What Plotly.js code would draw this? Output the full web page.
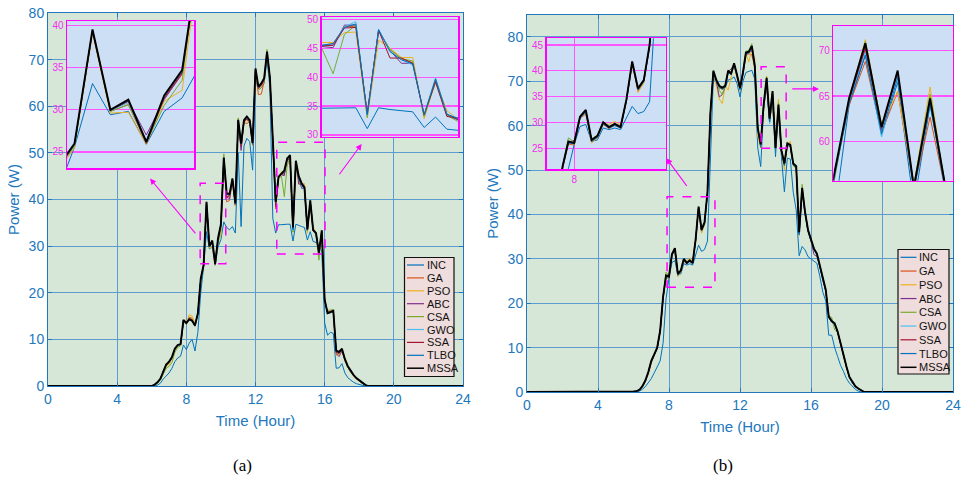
<!DOCTYPE html>
<html><head><meta charset="utf-8">
<script src="https://cdn.plot.ly/plotly-3.0.1.min.js"></script>
<style>html,body{margin:0;padding:0;background:#fff;}#chart{width:963px;height:479px;}</style>
</head><body><div id="chart"></div>
<script>
// ---------------- DATA ----------------
const seriesNames = ['INC','GA','PSO','ABC','CSA','GWO','SSA','TLBO','MSSA'];
const xTicks = [0,4,8,12,16,20,24];
const yTicksMain = [0,10,20,30,40,50,60,70,80];

// Panel (a): time in hours (10-min steps during the day)
const timeA = [0,
 6,6.167,6.333,6.5,6.667,6.833, 7,7.167,7.333,7.5,7.667,7.833, 8,8.167,8.333,8.5,8.667,8.833,
 9,9.167,9.333,9.5,9.667,9.833, 10,10.167,10.333,10.5,10.667,10.833, 11,11.167,11.333,11.5,11.667,11.833,
 12,12.167,12.333,12.5,12.667,12.833, 13,13.167,13.333,13.5,13.667,13.833, 14,14.167,14.333,14.5,14.667,14.833,
 15,15.167,15.333,15.5,15.667,15.833, 16,16.167,16.333,16.5,16.667,16.833, 17,17.167,17.333,17.5,17.667,17.833,
 18,18.167,18.333,18.5, 24];

const INC_a = [0,
 0,0,0.2,0.6,1.5,2.2, 2.8,3.8,5.2,6.0,6.4,8.8, 7.8,9.2,10.0,7.5,11.5,20.0,
 25.6,33.1,29.4,29.8,25.9,29.8, 31.4,35.2,34.0,33.5,34.2,32.8, 50.0,34.2,51.5,53.1,52.4,46.3,
 66.0,63.5,64.0,65.0,70.0,64.0, 36.0,32.8,34.6,34.6,34.7,34.7, 34.7,31.1,34.7,34.4,34.2,34.0,
 31.3,33.1,31.0,30.8,30.0,29.0, 13.5,10.9,11.5,11.3,3.8,3.9, 4.8,2.8,1.8,1.2,0.8,0.5,
 0.3,0.1,0,0, 0];
const GA_a = [0,
 0,0.3,0.8,1.5,3.0,4.4, 5.0,6.0,7.8,8.6,8.9,13.8, 13.3,14.8,14.5,13.2,15.4,22.8,
 25.8,39.3,29.8,30.6,26.0,31.3, 34.2,48.5,39.5,39.8,44.0,38.8, 56.6,51.2,56.5,56.3,56.7,51.8,
 67.5,62.5,62.6,65.3,71.2,65.8, 52.0,38.0,44.5,45.5,45.8,48.7, 48.8,33.5,48.0,44.8,43.2,42.5,
 33.3,39.4,33.6,32.6,28.5,33.0, 18.0,16.0,16.0,16.3,6.8,6.8, 7.6,5.4,4.0,3.0,2.2,1.5,
 1.0,0.6,0.2,0, 0];
const PSO_a = [0,
 0,0.3,0.7,1.4,2.9,4.2, 4.6,5.8,7.6,8.5,8.8,14.0, 13.6,15.3,15.0,13.5,15.2,22.5,
 25.5,39.0,29.6,29.7,25.9,31.0, 32.3,48.6,40.8,40.6,44.2,38.6, 56.8,51.5,56.2,57.0,56.5,51.5,
 67.8,63.5,64.2,65.5,71.0,65.5, 52.5,38.8,44.6,46.0,46.0,47.7, 47.8,33.0,46.4,45.0,43.4,43.4,
 32.8,39.4,34.2,32.7,28.2,32.8, 18.0,15.8,15.7,16.0,6.5,6.9, 7.4,5.5,4.1,3.0,2.2,1.5,
 1.0,0.6,0.2,0, 0];
const ABC_a = [0,
 0,0.3,0.8,1.5,3.1,4.5, 5.0,6.0,7.9,8.7,8.9,14.0, 13.4,14.6,14.2,12.8,15.5,22.8,
 25.8,39.2,30.0,31.0,27.0,31.2, 34.3,48.6,40.5,40.2,44.2,38.8, 56.8,50.5,56.8,57.2,56.6,51.8,
 67.8,63.8,64.5,65.5,71.2,66.0, 52.6,39.0,44.7,45.3,45.1,49.0, 49.0,33.6,48.2,44.6,42.4,42.4,
 33.3,39.6,33.4,32.6,28.3,33.0, 18.2,15.8,16.0,16.0,7.0,6.3, 7.5,5.6,4.1,3.0,2.3,1.6,
 1.1,0.6,0.2,0, 0];
const CSA_a = [0,
 0,0.2,0.6,1.2,2.6,3.8, 4.2,5.0,7.2,8.3,8.6,13.8, 13.2,14.6,14.3,13.3,15.3,22.6,
 25.7,39.3,29.8,30.6,26.1,30.5, 33.5,49.8,41.0,40.8,44.6,38.9, 57.5,51.8,56.8,57.5,56.8,51.9,
 67.9,63.9,64.6,65.8,72.2,66.1, 52.8,39.2,44.5,45.0,40.6,47.4, 49.0,33.0,48.0,44.8,43.2,42.8,
 33.2,39.1,33.4,32.3,27.0,33.2, 18.3,16.2,16.3,16.4,7.3,7.0, 7.8,5.6,4.1,3.0,2.3,1.6,
 1.1,0.6,0.2,0, 0];
const GWO_a = [0,
 0,0.3,0.8,1.5,3.1,4.5, 5.1,6.1,7.9,8.7,8.9,14.1, 13.4,14.4,14.1,13.0,15.5,22.9,
 25.9,39.4,29.9,30.8,26.3,31.5, 34.5,48.8,41.0,41.0,44.3,39.0, 56.9,51.8,56.8,57.5,56.9,52.0,
 68.0,64.0,64.7,65.8,71.5,66.0, 52.8,39.3,44.7,45.5,45.6,48.7, 49.6,33.4,48.3,44.5,43.0,42.1,
 33.5,39.9,33.6,32.9,28.5,33.3, 18.4,15.7,15.9,16.2,7.4,7.2, 7.9,5.7,4.2,3.1,2.3,1.6,
 1.1,0.6,0.2,0, 0];
const SSA_a = [0,
 0,0.3,0.8,1.5,3.1,4.5, 5.1,6.1,7.9,8.7,8.9,14.0, 13.4,14.5,14.2,12.9,15.5,22.9,
 25.9,39.4,29.9,31.0,26.0,31.4, 34.4,48.8,40.5,40.8,44.3,39.0, 56.9,51.6,56.8,57.2,56.8,52.0,
 67.9,63.9,64.5,65.7,71.3,66.0, 52.7,38.5,44.7,45.4,45.5,48.5, 48.6,33.7,48.1,43.3,43.3,42.4,
 33.5,39.2,33.2,32.9,28.4,33.2, 18.3,15.8,16.0,16.2,7.2,7.0, 7.8,5.7,4.2,3.1,2.3,1.6,
 1.1,0.6,0.2,0, 0];
const TLBO_a = [0,
 0,0.3,0.8,1.5,3.1,4.5, 5.1,6.1,7.9,8.7,8.9,14.1, 13.4,14.2,13.9,12.9,15.5,22.9,
 25.9,39.4,29.9,31.1,26.1,31.6, 34.6,48.9,41.1,41.0,44.4,39.1, 57.0,51.9,56.9,57.6,56.9,52.0,
 68.0,64.1,64.8,65.9,71.5,66.1, 52.9,39.4,44.8,45.5,45.8,48.6, 49.2,33.5,48.2,44.4,43.0,42.3,
 33.5,39.7,33.6,32.8,28.6,33.3, 18.4,15.5,15.7,16.0,7.5,7.2, 7.9,5.7,4.2,3.1,2.3,1.6,
 1.1,0.6,0.2,0, 0];
const MSSA_a = [0,
 0,0.3,0.8,1.6,3.2,4.6, 5.2,6.2,8.0,8.8,9.0,14.2, 13.5,14.3,14.0,13.0,15.6,23.0,
 26.0,39.5,30.0,31.2,26.2,31.7, 34.7,49.0,41.3,41.2,44.5,39.2, 57.1,52.0,57.0,57.8,57.0,52.1,
 68.1,64.2,64.9,66.0,71.7,66.2, 53.0,39.5,44.9,45.6,46.2,48.8, 49.5,34.0,48.3,45.0,43.5,42.6,
 33.6,39.8,33.5,32.8,28.6,33.4, 18.5,15.6,15.8,16.1,7.6,7.3, 8.0,5.8,4.3,3.2,2.4,1.7,
 1.2,0.7,0.3,0, 0];

// Panel (b)
const timeB = [0, 5.833,
 6,6.167,6.333,6.5,6.667,6.833, 7,7.167,7.333,7.5,7.667,7.833, 8,8.167,8.333,8.5,8.667,8.833,
 9,9.167,9.333,9.5,9.667,9.833, 10,10.167,10.333,10.5,10.667,10.833, 11,11.167,11.333,11.5,11.667,11.833,
 12,12.167,12.333,12.5,12.667,12.833, 13,13.167,13.333,13.5,13.667,13.833, 14,14.167,14.333,14.5,14.667,14.833,
 15,15.167,15.333,15.5,15.667,15.833, 16,16.167,16.333,16.5,16.667,16.833, 17,17.167,17.333,17.5,17.667,17.833,
 18,18.167,18.333,18.5,18.667,18.833, 19, 24];

const INC_b = [0, 0,
 0,0,0.2,0.6,1.2,2.0, 3.0,4.3,5.6,7.0,11.0,21.0, 25.7,29.2,29.6,26.3,26.6,28.9,
 28.6,28.9,28.6,30.8,33.1,31.7, 32.1,34.0,55.0,71.0,69.5,68.5, 68.3,68.6,70.3,70.5,71.0,69.5,
 66.5,70.0,72.0,72.2,72.5,70.5, 55.0,50.8,64.0,69.5,60.7,66.5, 53.0,64.0,53.0,45.1,52.7,52.5,
 45.0,41.0,30.7,32.8,32.0,30.5, 30.0,29.5,29.0,26.0,22.5,20.5, 12.8,12.8,10.0,8.0,6.0,4.6,
 3.0,2.0,1.2,0.6,0.2,0, 0, 0];
const GA_b = [0, 0,
 0.1,0.2,0.4,1.1,2.3,4.0, 6.5,8.2,9.7,13.4,21.0,25.8, 25.6,30.8,31.6,26.2,27.0,29.6,
 28.8,29.4,28.9,34.0,41.3,36.0, 37.8,44.5,62.5,72.0,70.0,68.5, 68.2,68.6,72.0,71.5,73.6,71.2,
 68.2,71.6,75.8,76.2,76.0,73.0, 59.0,55.5,64.0,68.8,61.0,65.5, 54.8,62.7,54.2,51.2,55.6,55.3,
 51.2,50.5,35.6,45.5,40.2,36.2, 34.0,32.0,31.0,28.2,25.0,22.8, 16.8,15.8,15.2,13.4,10.8,8.0,
 5.5,3.2,2.0,1.2,0.7,0.3, 0, 0];
const PSO_b = [0, 0,
 0.1,0.2,0.4,1.2,2.4,4.2, 6.7,8.3,9.8,13.5,21.2,26.0, 25.7,30.9,31.8,26.0,27.0,29.8,
 29.6,30.2,29.5,34.2,41.5,35.8, 37.6,44.8,62.8,72.2,69.0,66.0, 65.0,69.0,68.0,71.2,73.8,70.6,
 67.8,71.5,76.0,74.4,77.5,75.0, 57.5,55.0,64.5,71.2,61.8,65.5, 55.2,66.0,54.0,50.0,55.5,56.5,
 51.0,50.2,35.2,45.8,40.0,36.0, 34.0,32.0,31.0,28.2,25.0,22.8, 16.9,15.8,15.2,13.4,10.8,8.0,
 5.5,3.2,2.0,1.2,0.7,0.3, 0, 0];
const ABC_b = [0, 0,
 0.1,0.2,0.5,1.2,2.5,4.4, 6.8,8.4,9.9,13.6,21.3,26.2, 26.5,31.0,32.2,26.5,27.2,29.9,
 29.0,29.6,29.3,34.2,41.6,36.3, 38.0,44.8,62.8,72.2,70.0,66.5, 67.0,68.8,72.2,72.8,73.8,71.2,
 68.3,71.8,76.2,76.4,77.2,73.3, 59.2,55.5,64.5,70.5,61.3,67.5, 54.8,64.5,54.2,51.3,55.8,55.5,
 51.3,50.6,35.7,45.8,40.2,36.3, 34.0,31.0,30.5,28.3,25.1,22.8, 16.9,15.8,15.3,13.5,10.9,8.1,
 5.6,3.3,2.1,1.2,0.7,0.3, 0, 0];
const CSA_b = [0, 0,
 0.1,0.2,0.5,1.3,2.6,4.5, 7.0,8.5,10.0,13.8,21.6,27.0, 26.2,31.2,32.3,26.8,27.5,30.1,
 29.2,29.8,29.2,34.3,41.7,36.5, 38.1,44.9,62.9,72.5,70.2,68.0, 67.0,69.2,72.6,71.8,74.0,71.4,
 68.4,72.2,76.8,77.0,78.5,73.6, 59.6,55.0,64.8,71.0,61.8,67.6, 55.2,65.2,54.6,51.6,56.3,55.8,
 51.6,51.0,36.2,46.8,40.6,36.6, 34.3,32.4,31.3,28.6,25.5,23.2, 17.2,16.8,14.0,13.7,11.1,8.3,
 5.8,3.5,2.2,1.3,0.8,0.4, 0, 0];
const GWO_b = [0, 0,
 0.1,0.2,0.5,1.2,2.5,4.4, 6.9,8.4,9.9,13.7,21.4,26.1, 25.9,31.0,32.2,26.5,27.3,29.9,
 29.0,29.6,29.0,34.3,41.7,36.5, 38.1,44.9,62.9,72.2,70.1,68.8, 68.4,68.8,72.2,71.6,73.9,71.3,
 68.3,71.8,76.3,76.5,77.6,73.2, 59.2,55.5,64.3,69.8,60.5,67.3, 54.6,64.4,54.2,51.2,55.8,55.5,
 51.3,50.6,35.6,45.7,40.2,36.3, 34.0,32.1,31.0,28.3,25.1,22.8, 16.8,15.8,15.3,13.5,10.9,8.1,
 5.6,3.3,2.1,1.2,0.7,0.3, 0, 0];
const SSA_b = [0, 0,
 0.1,0.2,0.5,1.2,2.5,4.4, 6.9,8.4,9.9,13.7,21.4,26.2, 25.9,31.0,32.3,26.5,27.3,29.9,
 29.0,29.6,29.0,34.3,41.7,36.5, 38.1,44.9,62.9,72.3,70.2,68.9, 68.5,68.9,72.3,71.7,74.0,71.4,
 68.4,71.9,76.4,76.6,77.8,73.4, 59.4,55.7,64.6,70.2,61.5,67.6, 54.9,64.5,54.4,51.4,55.9,55.6,
 51.4,50.8,35.8,45.9,40.4,36.4, 34.1,32.2,31.1,28.4,25.2,22.9, 16.9,15.9,15.4,13.5,10.9,8.1,
 5.6,3.3,2.1,1.2,0.7,0.3, 0, 0];
const TLBO_b = [0, 0,
 0.1,0.2,0.4,1.2,2.4,4.3, 6.8,8.3,9.8,13.5,21.2,26.0, 25.8,30.8,32.0,26.3,27.1,29.7,
 28.9,29.4,28.9,34.1,41.5,36.3, 37.9,44.7,62.7,72.0,70.0,68.7, 68.3,68.7,72.0,71.5,73.8,71.2,
 68.1,71.7,76.2,76.4,77.5,73.2, 59.0,55.3,64.2,69.5,60.9,67.0, 54.6,64.2,54.0,51.0,55.6,55.3,
 51.1,50.4,35.4,45.5,40.1,36.2, 33.9,32.0,30.9,28.2,25.0,22.7, 16.7,15.7,15.2,13.4,10.8,8.0,
 5.5,3.2,2.0,1.2,0.7,0.3, 0, 0];
const MSSA_b = [0, 0,
 0.1,0.2,0.5,1.3,2.6,4.5, 7.0,8.5,10.0,13.8,21.5,26.3, 26.0,31.1,32.4,26.6,27.4,30.0,
 29.1,29.7,29.1,34.4,41.8,36.6, 38.2,45.0,63.0,72.4,70.3,69.0, 68.6,69.0,72.4,71.8,74.1,71.5,
 68.5,72.0,76.5,76.7,78.0,73.5, 59.5,55.8,64.75,70.8,61.6,67.8, 55.0,64.75,54.5,51.5,56.0,55.7,
 51.5,50.9,36.0,46.0,40.5,36.5, 34.2,32.3,31.2,28.5,25.3,23.0, 17.0,16.0,15.5,13.6,11.0,8.2,
 5.7,3.4,2.2,1.3,0.8,0.4, 0, 0];

const seriesA = [INC_a, GA_a, PSO_a, ABC_a, CSA_a, GWO_a, SSA_a, TLBO_a, MSSA_a];
const seriesB = [INC_b, GA_b, PSO_b, ABC_b, CSA_b, GWO_b, SSA_b, TLBO_b, MSSA_b];

// ---------------- STYLE ----------------
const lineColors = ['#0072BD','#D95319','#EDB120','#7E2F8E','#77AC30','#4DBEEE','#A2142F','#0072BD','#000000'];
const lineWidths = [1,1,1,1,1,1,1,1,1.9];
const W = 963, H = 479;
const PX = v => v / W, PY = v => 1 - v / H;
const BLUE = '#2277bd', GRID = '#5d9ccf', MAG = '#ff00ff', MAGT = '#f22ef2';
const FONT = 'Liberation Sans, Arial, sans-serif';

const traces = [];
function addSet(series, time, xa, ya, skipLast) {
  series.forEach((ys, i) => {
    if (skipLast && i === series.length - 1) return;
    traces.push({x: time, y: ys, xaxis: xa, yaxis: ya, type: 'scatter', mode: 'lines',
      name: seriesNames[i], showlegend: false, hoverinfo: 'skip',
      line: {color: lineColors[i], width: lineWidths[i]}});
  });
}
addSet(seriesA, timeA, 'x', 'y');
addSet(seriesB, timeB, 'x2', 'y2');
addSet(seriesA, timeA, 'x3', 'y3');
addSet(seriesA, timeA, 'x4', 'y4', true);
addSet(seriesB, timeB, 'x5', 'y5');
addSet(seriesB, timeB, 'x6', 'y6');

function mainX(dom, anchor) {
  return {domain: dom, anchor: anchor, range: [0, 24], tickvals: xTicks, showgrid: true, gridcolor: GRID, gridwidth: 1,
    zeroline: false, showline: true, linecolor: BLUE, linewidth: 1, mirror: 'allticks', ticks: 'inside', ticklen: 4,
    tickcolor: BLUE, tickfont: {family: FONT, size: 14, color: BLUE}, ticklabeloverflow: 'allow',
    title: {text: 'Time (Hour)', font: {family: FONT, size: 15, color: BLUE}, standoff: 9}};
}
function mainY(dom, anchor, top) {
  return {domain: dom, anchor: anchor, range: [0, top], tickvals: yTicksMain, showgrid: true, gridcolor: GRID, gridwidth: 1,
    zeroline: false, showline: true, linecolor: BLUE, linewidth: 1, mirror: 'allticks', ticks: 'inside', ticklen: 4,
    tickcolor: BLUE, tickfont: {family: FONT, size: 14, color: BLUE},
    title: {text: 'Power (W)', font: {family: FONT, size: 15, color: BLUE}, standoff: 5}};
}
function insetX(dom, anchor, range, ticks) {
  return {domain: dom, anchor: anchor, range: range, zeroline: false, showline: true, mirror: true, linecolor: MAG, linewidth: 1.5,
    ticks: '', tickvals: ticks || [], showticklabels: !!ticks, showgrid: !!ticks, gridcolor: '#ff55ff', gridwidth: 1,
    tickfont: {family: FONT, size: 10, color: MAGT}};
}
function insetY(dom, anchor, range, ticks) {
  return {domain: dom, anchor: anchor, range: range, zeroline: false, showline: true, mirror: true, linecolor: MAG, linewidth: 1.5,
    ticks: '', tickvals: ticks, showgrid: true, gridcolor: '#ff55ff', gridwidth: 1.2,
    tickfont: {family: FONT, size: 10, color: MAGT}};
}

const insetBg = '#cddff5';
const shapes = [
  // inset backgrounds
  {type: 'rect', xref: 'x3', yref: 'y3', x0: 8.93, x1: 10.11, y0: 23.1, y1: 40.5, fillcolor: insetBg, line: {width: 0}, layer: 'below'},
  {type: 'rect', xref: 'x4', yref: 'y4', x0: 13.5, x1: 15.5, y0: 29.7, y1: 50.35, fillcolor: insetBg, line: {width: 0}, layer: 'below'},
  {type: 'rect', xref: 'x5', yref: 'y5', x0: 7.21, x1: 10.63, y0: 20.9, y1: 46.3, fillcolor: insetBg, line: {width: 0}, layer: 'below'},
  {type: 'rect', xref: 'x6', yref: 'y6', x0: 13.17, x1: 14.4, y0: 55.7, y1: 72.7, fillcolor: insetBg, line: {width: 0}, layer: 'below'},
  // dashed zoom boxes
  {type: 'rect', xref: 'x', yref: 'y', x0: 8.8, x1: 10.28, y0: 26.2, y1: 43.5, line: {color: MAG, width: 1.5, dash: 'dash'}},
  {type: 'rect', xref: 'x', yref: 'y', x0: 13.23, x1: 16.02, y0: 28.3, y1: 52.3, line: {color: MAG, width: 1.5, dash: 'dash'}},
  {type: 'rect', xref: 'x2', yref: 'y2', x0: 7.89, x1: 10.59, y0: 23.6, y1: 44.0, line: {color: MAG, width: 1.5, dash: 'dash'}},
  {type: 'rect', xref: 'x2', yref: 'y2', x0: 13.19, x1: 14.6, y0: 54.9, y1: 73.3, line: {color: MAG, width: 1.5, dash: 'dash'}}
];
const annotations = [];

// manual legends
function legend(box, lineX0, lineX1, textX, y0, step) {
  shapes.push({type: 'rect', xref: 'paper', yref: 'paper', x0: PX(box[0]), x1: PX(box[1]), y0: PY(box[3]), y1: PY(box[2]),
    fillcolor: '#efdcdc', line: {color: '#111', width: 1.2}, layer: 'above'});
  seriesNames.forEach((n, i) => {
    const yy = y0 + i * step;
    shapes.push({type: 'line', xref: 'paper', yref: 'paper', x0: PX(lineX0), x1: PX(lineX1), y0: PY(yy), y1: PY(yy),
      line: {color: lineColors[i], width: i === 8 ? 1.5 : 1.2}, layer: 'above'});
    annotations.push({xref: 'paper', yref: 'paper', x: PX(textX), y: PY(yy), xanchor: 'left', yanchor: 'middle',
      text: n, showarrow: false, font: {family: FONT, size: 11, color: '#111'}});
  });
}
legend([404.5, 454, 257.5, 376.5], 407, 424, 424.5, 265, 12.9);
legend([898, 949, 249.5, 374], 900.5, 916.5, 917, 257.3, 13.75);

// arrows
function arrow(xr, yr, hx, hy, tx, ty) {
  annotations.push({xref: xr, yref: yr, axref: xr, ayref: yr, x: hx, y: hy, ax: tx, ay: ty, text: '', showarrow: true,
    arrowhead: 2, arrowsize: 1.1, arrowwidth: 1.1, arrowcolor: MAG});
}
arrow('x', 'y', 5.9, 44.5, 8.6, 32.4);
arrow('x', 'y', 18.14, 51.9, 16.79, 45.1);
arrow('x2', 'y2', 7.85, 52.7, 9.06, 46.1);
arrow('x2', 'y2', 16.45, 68.3, 14.86, 68.3);

// captions
annotations.push({xref: 'paper', yref: 'paper', x: PX(243), y: PY(465), xanchor: 'center', yanchor: 'middle', text: '(a)', showarrow: false,
  font: {family: 'Liberation Serif, Times New Roman, serif', size: 17, color: '#000'}});
annotations.push({xref: 'paper', yref: 'paper', x: PX(723), y: PY(465), xanchor: 'center', yanchor: 'middle', text: '(b)', showarrow: false,
  font: {family: 'Liberation Serif, Times New Roman, serif', size: 17, color: '#000'}});

const layout = {
  width: W, height: H, margin: {l: 0, r: 0, t: 0, b: 0}, paper_bgcolor: '#ffffff', plot_bgcolor: '#d6e7d7',
  showlegend: false, font: {family: FONT},
  xaxis: mainX([PX(48), PX(463)], 'y'),
  yaxis: mainY([PY(386), PY(13)], 'x', 80),
  xaxis2: mainX([PX(527), PX(953)], 'y2'),
  yaxis2: mainY([PY(392), PY(14.8)], 'x2', 85),
  xaxis3: insetX([PX(67), PX(194)], 'y3', [8.93, 10.11]),
  yaxis3: insetY([PY(168), PY(21)], 'x3', [23.1, 40.5], [25, 30, 35, 40]),
  xaxis4: insetX([PX(321.7), PX(458.3)], 'y4', [13.5, 15.5]),
  yaxis4: insetY([PY(136.7), PY(17.3)], 'x4', [29.7, 50.35], [30, 35, 40, 45, 50]),
  xaxis5: insetX([PX(546.7), PX(665.7)], 'y5', [7.21, 10.63], [8]),
  yaxis5: insetY([PY(169.3), PY(38.3)], 'x5', [20.9, 46.3], [25, 30, 35, 40, 45]),
  xaxis6: insetX([PX(833.3), PX(952.7)], 'y6', [13.17, 14.4]),
  yaxis6: insetY([PY(180.7), PY(26)], 'x6', [55.7, 72.7], [60, 65, 70]),
  shapes: shapes, annotations: annotations
};
Plotly.newPlot('chart', traces, layout, {staticPlot: true, displayModeBar: false});
</script>
</body></html>
